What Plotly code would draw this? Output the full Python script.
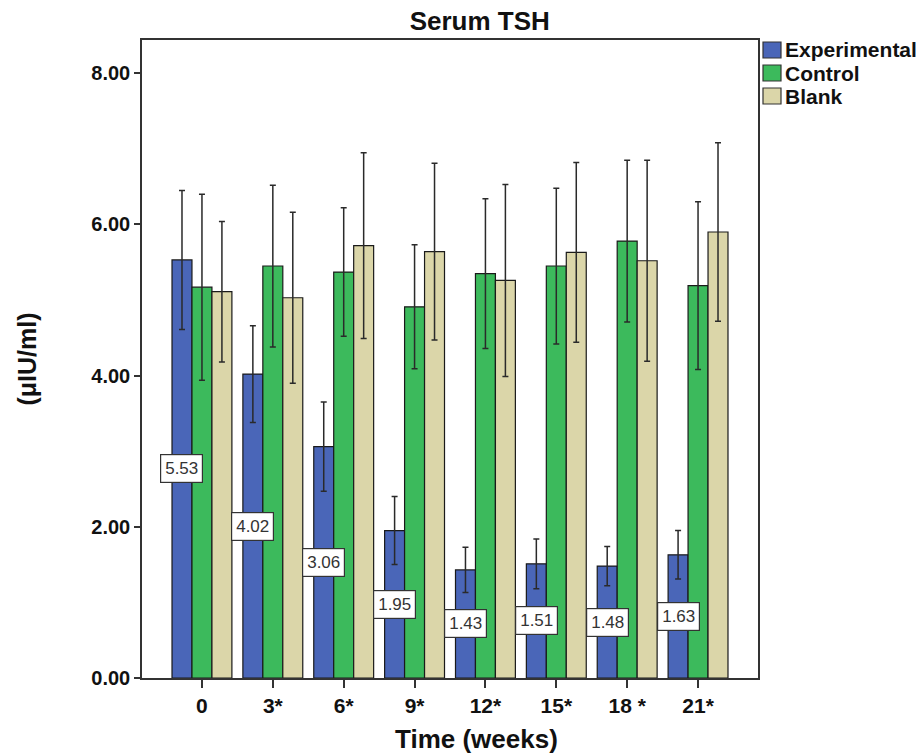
import plotly.graph_objects as go

weeks = ["0", "3*", "6*", "9*", "12*", "15*", "18 *", "21*"]
experimental = [5.53, 4.02, 3.06, 1.95, 1.43, 1.51, 1.48, 1.63]
experimental_err = [0.92, 0.64, 0.59, 0.45, 0.30, 0.33, 0.26, 0.32]
control = [5.17, 5.45, 5.37, 4.91, 5.35, 5.45, 5.78, 5.19]
control_err = [1.23, 1.07, 0.85, 0.82, 0.99, 1.03, 1.07, 1.11]
blank = [5.11, 5.03, 5.72, 5.64, 5.26, 5.63, 5.52, 5.90]
blank_err = [0.93, 1.13, 1.23, 1.17, 1.27, 1.19, 1.33, 1.18]
y_ticks = [0, 2, 4, 6, 8]

FONT = "Liberation Sans, Arial, sans-serif"
BARGAP = 0.155
n_series = 3
bar_w = (1 - BARGAP) / n_series
xpos = list(range(len(weeks)))

fig = go.Figure()
series = [
    ("Experimental", experimental, experimental_err, "#4a66b8"),
    ("Control", control, control_err, "#3cba5c"),
    ("Blank", blank, blank_err, "#dbd6a9"),
]
for name, vals, errs, col in series:
    fig.add_trace(go.Bar(
        name=name, x=xpos, y=vals, showlegend=False,
        marker=dict(color=col, line=dict(color="#1a1a1a", width=1.2)),
        error_y=dict(type="data", array=errs, visible=True,
                     color="#2a2a2a", thickness=1.5, width=3),
    ))

for i, v in enumerate(experimental):
    fig.add_annotation(
        x=i - bar_w, y=v / 2, text=f"{v:.2f}", showarrow=False,
        font=dict(family=FONT, size=17, color="#333333"),
        bgcolor="white", bordercolor="#333333", borderwidth=1.2, borderpad=4,
    )

# custom compact legend (right of plot area)
PLOT_W = 919 - 142 - 161
PLOT_H = 755 - 40 - 77
for k, (name, _, _, col) in enumerate(series):
    yc = 1 - (10 + 23 * k) / PLOT_H
    x0 = 1 + 5 / PLOT_W
    fig.add_shape(type="rect", xref="paper", yref="paper",
                  x0=x0, x1=x0 + 18 / PLOT_W, y0=yc - 8 / PLOT_H, y1=yc + 8 / PLOT_H,
                  fillcolor=col, line=dict(color="#333333", width=1.2))
    fig.add_annotation(xref="paper", yref="paper", x=1 + 25 / PLOT_W, y=yc,
                       xanchor="left", yanchor="middle", showarrow=False,
                       text=f"<b>{name}</b>",
                       font=dict(family=FONT, size=21, color="#111111"))

fig.add_annotation(xref="paper", yref="paper", x=(477 - 142) / PLOT_W, y=0,
                   yanchor="top", yshift=-44, showarrow=False,
                   text="<b>Time (weeks)</b>",
                   font=dict(family=FONT, size=26, color="#111111"))

fig.update_layout(
    width=919, height=755,
    margin=dict(l=142, r=161, t=40, b=77),
    paper_bgcolor="white", plot_bgcolor="white",
    barmode="group", bargap=BARGAP, bargroupgap=0,
    font=dict(family=FONT, color="#111111"),
    title=dict(text="<b>Serum TSH</b>", x=0.522, xanchor="center", y=0.972, yanchor="middle",
               font=dict(family=FONT, size=26, color="#111111")),
    showlegend=False,
    xaxis=dict(
        tickmode="array", tickvals=xpos, ticktext=[f"<b>{w}</b>" for w in weeks],
        range=[-0.846, len(weeks) - 1 + 0.846],
        showline=True, linecolor="#333333", linewidth=1.5, mirror=True,
        ticks="outside", ticklen=8, tickwidth=1.5, tickcolor="#333333",
        tickfont=dict(family=FONT, size=21, color="#111111"),
        showgrid=False, zeroline=False,
    ),
    yaxis=dict(
        range=[0, 8.44], tickmode="array", tickvals=y_ticks,
        ticktext=[f"<b>{t:.2f}</b>" for t in y_ticks],
        showline=True, linecolor="#333333", linewidth=1.5, mirror=True,
        ticks="outside", ticklen=6, tickwidth=1.5, tickcolor="#333333",
        tickfont=dict(family=FONT, size=20, color="#111111"),
        showgrid=False, zeroline=False,
        title=dict(text="<b>(μIU/ml)</b>", font=dict(family=FONT, size=25, color="#111111"), standoff=48),
    ),
)

fig.write_html("out.html")
